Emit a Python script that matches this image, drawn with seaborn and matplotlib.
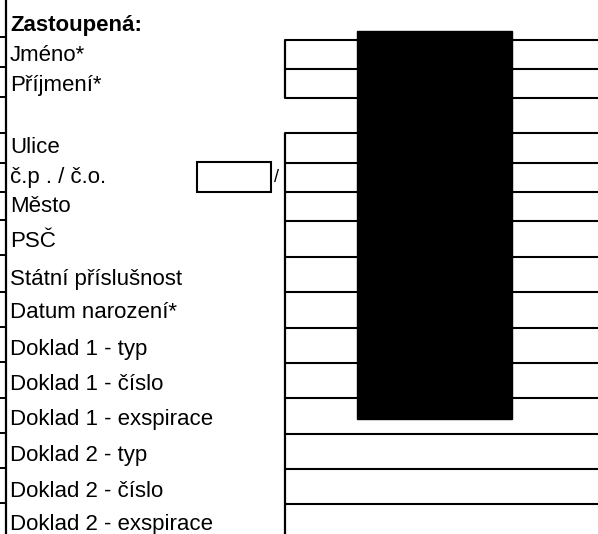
import numpy as np
import pandas as pd
import seaborn as sns
import matplotlib.pyplot as plt
from matplotlib.patches import Rectangle

# form labels and where their baselines sit (px from top)
labels = ["Zastoupená:", "Jméno*", "Příjmení*", "Ulice", "č.p . / č.o.", "Město", "PSČ",
          "Státní příslušnost", "Datum narození*", "Doklad 1 - typ", "Doklad 1 - číslo",
          "Doklad 1 - exspirace", "Doklad 2 - typ", "Doklad 2 - číslo", "Doklad 2 - exspirace"]
baselines = [31, 61, 91, 153, 183, 212, 247, 285, 318, 355, 390, 425, 461, 497, 530]

# horizontal lines of the input fields on the right
field_lines = [40, 69, 98, 133, 163, 192, 221, 257, 292, 328, 363, 398, 434, 469, 504]
# small ticks on the left border
left_ticks = [37, 67, 97, 133, 163, 192, 220, 255, 292, 327, 362, 398, 433, 468, 503]

W, H = 598, 534
field_x0 = 285

sns.set_theme(style="white")
plt.rcParams['font.family'] = ['Liberation Sans', 'DejaVu Sans']

fig = plt.figure(figsize=(W / 100, H / 100), dpi=100)
ax = fig.add_axes([0, 0, 1, 1])

# field lines drawn as seaborn line segments
rows = []
for i, y in enumerate(field_lines):
    rows.append({"x": field_x0, "y": y, "line": i})
    rows.append({"x": W, "y": y, "line": i})
df = pd.DataFrame(rows)
sns.lineplot(data=df, x="x", y="y", units="line", estimator=None,
             color="black", linewidth=1.5, ax=ax, legend=False)
ax.set_xlim(0, W)
ax.set_ylim(H, 0)
ax.axis("off")

# vertical edges of the field blocks
ax.vlines(field_x0, field_lines[0], field_lines[2], color="black", lw=1.6)
ax.vlines(field_x0, field_lines[3], H, color="black", lw=1.6)

# left border with ticks
ax.vlines(6, 0, H, color="black", lw=1.6)
ax.hlines(left_ticks, 0, 6, color="black", lw=1.4)

# small box for house number
ax.add_patch(Rectangle((197, 162), 74, 30, fill=False, ec="black", lw=1.5))
ax.text(277, 178, "/", fontsize=13, ha="center", va="center", color="black")

# redaction block
ax.add_patch(Rectangle((357, 31), 155, 388, color="black", zorder=5))

for i, (lab, yb) in enumerate(zip(labels, baselines)):
    ax.text(10, yb, lab, fontsize=16, va="baseline", ha="left", color="black",
            fontweight="bold" if i == 0 else "normal")

fig.savefig("out.png", dpi=100)
